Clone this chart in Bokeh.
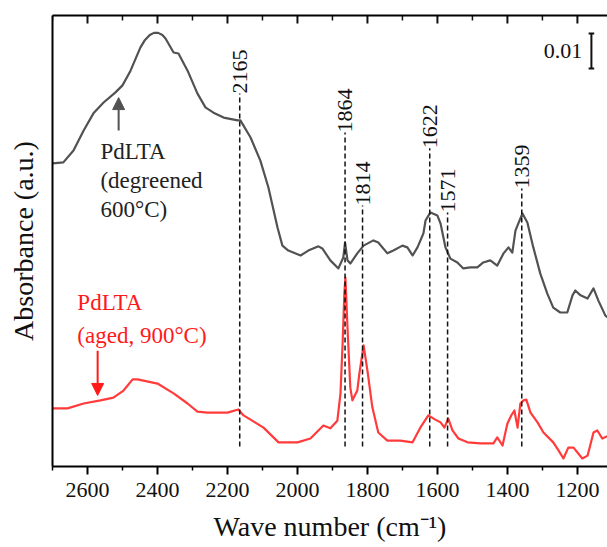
import math
from bokeh.plotting import figure
from bokeh.models import Range1d, LinearAxis, FixedTicker, Arrow, NormalHead
from bokeh.core.properties import value
from bokeh.embed import file_html
from bokeh.resources import INLINE

# ---------------- data ----------------
wn_degreened = [2700, 2669, 2640, 2611, 2583, 2554, 2520, 2500, 2477, 2449, 2437, 2422, 2410, 2398,
                2386, 2377, 2354, 2340, 2314, 2286, 2263, 2240, 2211, 2171, 2163, 2134, 2106, 2083,
                2057, 2043, 2026, 1991, 1969, 1940, 1929, 1906, 1883, 1869, 1864, 1857, 1849, 1829,
                1811, 1783, 1769, 1743, 1726, 1700, 1686, 1671, 1657, 1640, 1634, 1620, 1600, 1591,
                1577, 1563, 1543, 1526, 1506, 1486, 1469, 1449, 1429, 1411, 1397, 1386, 1377, 1369,
                1357, 1343, 1326, 1306, 1286, 1269, 1249, 1229, 1214, 1206, 1191, 1171, 1154, 1140,
                1120, 1109]
abs_degreened = [0.0866, 0.0869, 0.0903, 0.0960, 0.1009, 0.1040, 0.1069, 0.1089, 0.1131, 0.1197,
                 0.1217, 0.1233, 0.1239, 0.1239, 0.1233, 0.1223, 0.1183, 0.1180, 0.1131, 0.1066,
                 0.1026, 0.1011, 0.0997, 0.0989, 0.0989, 0.0940, 0.0874, 0.0797, 0.0683, 0.0631,
                 0.0617, 0.0603, 0.0617, 0.0629, 0.0623, 0.0589, 0.0566, 0.0597, 0.0640, 0.0589,
                 0.0580, 0.0609, 0.0631, 0.0646, 0.0640, 0.0609, 0.0617, 0.0631, 0.0626, 0.0603,
                 0.0626, 0.0666, 0.0703, 0.0726, 0.0717, 0.0694, 0.0626, 0.0594, 0.0583, 0.0566,
                 0.0569, 0.0569, 0.0583, 0.0589, 0.0574, 0.0609, 0.0626, 0.0611, 0.0674, 0.0694,
                 0.0723, 0.0697, 0.0626, 0.0551, 0.0494, 0.0454, 0.0440, 0.0440, 0.0489, 0.0503,
                 0.0489, 0.0480, 0.0509, 0.0474, 0.0431, 0.0423]

wn_aged = [2700, 2657, 2611, 2563, 2526, 2497, 2471, 2457, 2400, 2354, 2314, 2286, 2257, 2200,
           2169, 2154, 2134, 2097, 2054, 2000, 1963, 1926, 1906, 1886, 1877, 1871, 1866, 1863,
           1857, 1849, 1843, 1829, 1823, 1811, 1800, 1786, 1769, 1743, 1706, 1671, 1649, 1626,
           1606, 1591, 1580, 1569, 1557, 1540, 1514, 1477, 1440, 1429, 1414, 1400, 1389, 1380,
           1371, 1363, 1354, 1346, 1334, 1314, 1297, 1269, 1254, 1240, 1226, 1211, 1186, 1171,
           1154, 1143, 1129, 1109]
abs_aged = [0.0166, 0.0166, 0.0180, 0.0189, 0.0197, 0.0217, 0.0249, 0.0249, 0.0237, 0.0209,
            0.0180, 0.0157, 0.0154, 0.0154, 0.0163, 0.0146, 0.0134, 0.0111, 0.0069, 0.0069,
            0.0080, 0.0117, 0.0109, 0.0131, 0.0209, 0.0351, 0.0494, 0.0540, 0.0397, 0.0226,
            0.0189, 0.0217, 0.0266, 0.0346, 0.0274, 0.0169, 0.0097, 0.0074, 0.0074, 0.0069,
            0.0111, 0.0146, 0.0134, 0.0126, 0.0111, 0.0137, 0.0103, 0.0080, 0.0069, 0.0066,
            0.0066, 0.0083, 0.0060, 0.0123, 0.0146, 0.0160, 0.0111, 0.0180, 0.0189, 0.0191,
            0.0154, 0.0126, 0.0097, 0.0069, 0.0046, 0.0023, 0.0054, 0.0054, 0.0023, 0.0031,
            0.0097, 0.0103, 0.0080, 0.0089]

peak_positions = [2165, 1864, 1814, 1622, 1571, 1359]
peak_labels = ["2165", "1864", "1814", "1622", "1571", "1359"]
x_ticks = [2600, 2400, 2200, 2000, 1800, 1600, 1400, 1200]
x_minor_ticks = [2700, 2500, 2300, 2100, 1900, 1700, 1500, 1300, 1100]
scale_bar_value = 0.01

# ---------------- layout / styling (positions) ----------------
peak_line_bottom = 0.0057
peak_line_tops = [0.1066, 0.0954, 0.0746, 0.0909, 0.0726, 0.0794]

GRAY = "#525252"
RED = "#ff3b3b"
TEXT_RED = "#ff1a1a"
FONT = "Liberation Serif"
Y_TOP = 0.12886

p = figure(width=607, height=547, output_backend="svg", toolbar_location=None,
           x_range=Range1d(2700, 1114), y_range=Range1d(0, Y_TOP),
           min_border_left=52, min_border_right=0, min_border_top=15, min_border_bottom=81,
           background_fill_color="white", border_fill_color="white")
p.outline_line_color = None
p.grid.visible = False

# bottom axis
xa = p.xaxis[0]
xa.ticker = FixedTicker(ticks=x_ticks, minor_ticks=x_minor_ticks)
xa.axis_label = "Wave number (cm\u207b\u00b9)"
xa.axis_label_text_font = FONT
xa.axis_label_text_font_style = "normal"
xa.axis_label_text_font_size = "28px"
xa.axis_label_text_color = "#111111"
xa.axis_label_standoff = 11
xa.major_label_text_font = FONT
xa.major_label_text_font_size = "22px"
xa.major_label_text_color = "#111111"
xa.major_label_standoff = 8
xa.axis_line_width = 2
xa.major_tick_in = 0
xa.major_tick_out = 8
xa.minor_tick_in = 0
xa.minor_tick_out = 4
xa.major_tick_line_width = 2
xa.minor_tick_line_width = 1.5

# left axis (line only)
ya = p.yaxis[0]
ya.ticker = FixedTicker(ticks=[])
ya.major_tick_line_color = None
ya.minor_tick_line_color = None
ya.axis_label = "Absorbance (a.u.)"
ya.axis_label_text_font = FONT
ya.axis_label_text_font_style = "normal"
ya.axis_label_text_font_size = "28px"
ya.axis_label_text_color = "#111111"
ya.axis_label_standoff = 14
ya.axis_line_width = 2

# top axis line (no labels); its inward ticks are drawn as dash markers on the frame edge
ta = LinearAxis(ticker=FixedTicker(ticks=[]), major_tick_line_color=None,
                minor_tick_line_color=None, axis_line_width=2)
p.add_layout(ta, "above")
p.scatter(x=x_ticks, y=[Y_TOP] * len(x_ticks), marker="dash", angle=math.pi / 2,
          size=16, line_color="#111111", line_width=2)
p.scatter(x=x_minor_ticks, y=[Y_TOP] * len(x_minor_ticks), marker="dash", angle=math.pi / 2,
          size=10, line_color="#111111", line_width=1.5)

# spectra
p.line(wn_degreened, abs_degreened, line_color=GRAY, line_width=2.2, line_join="round")
p.line(wn_aged, abs_aged, line_color=RED, line_width=2.2, line_join="round")

# peak markers
p.segment(x0=peak_positions, x1=peak_positions, y0=[peak_line_bottom] * len(peak_positions),
          y1=peak_line_tops, line_color="#111111", line_width=1.5, line_dash="5 3")
p.text(x=peak_positions, y=peak_line_tops, text=peak_labels, angle=math.pi / 2,
       text_align="left", text_baseline="middle", text_font=value(FONT),
       text_font_size="22px", text_color="#111111")

# annotations
p.text(x=[2563, 2563, 2563], y=[0.0900, 0.0817, 0.0734],
       text=["PdLTA", "(degreened", "600\u00b0C)"], text_align="left", text_baseline="middle",
       text_font=value(FONT), text_font_size="23px", text_color="#222222")
p.text(x=[2629, 2629], y=[0.0470, 0.0374], text=["PdLTA", "(aged, 900\u00b0C)"],
       text_align="left", text_baseline="middle",
       text_font=value(FONT), text_font_size="23px", text_color=TEXT_RED)

p.add_layout(Arrow(x_start=2511, y_start=0.0960, x_end=2511, y_end=0.1054,
                   line_color=GRAY, line_width=2,
                   end=NormalHead(size=12, fill_color=GRAY, line_color=GRAY)))
p.add_layout(Arrow(x_start=2571, y_start=0.0331, x_end=2571, y_end=0.0203,
                   line_color=TEXT_RED, line_width=2,
                   end=NormalHead(size=12, fill_color=TEXT_RED, line_color=TEXT_RED)))

# scale bar 0.01
bar_x = 1160
bar_top = 0.1237
p.segment(x0=[bar_x, bar_x - 8, bar_x - 8], x1=[bar_x, bar_x + 8, bar_x + 8],
          y0=[bar_top - scale_bar_value, bar_top, bar_top - scale_bar_value],
          y1=[bar_top, bar_top, bar_top - scale_bar_value],
          line_color="#111111", line_width=2)
p.text(x=[1186], y=[bar_top - scale_bar_value / 2], text=["0.01"], text_align="right",
       text_baseline="middle", text_font=value(FONT), text_font_size="22px", text_color="#111111")

open("out.html", "w").write(file_html(p, INLINE))
